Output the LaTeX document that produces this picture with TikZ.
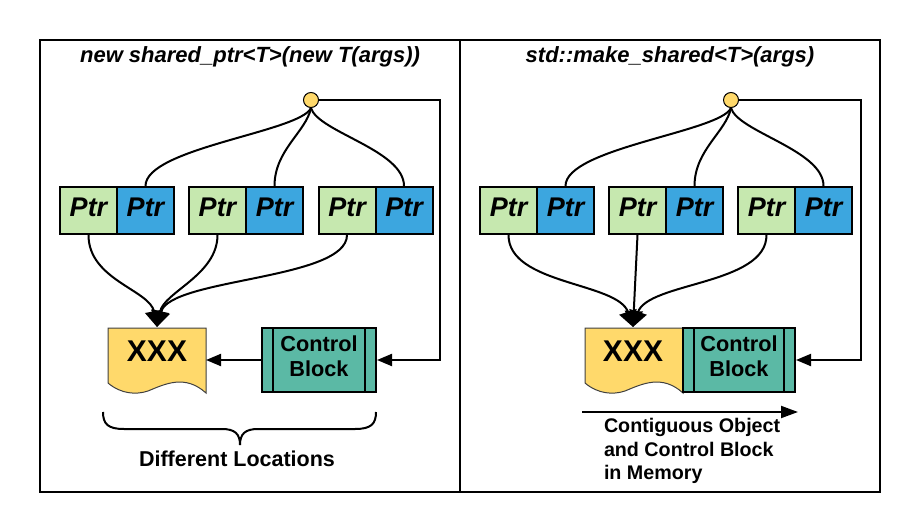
\documentclass[tikz,border=0pt]{standalone}
\usepackage{fontspec}
\setmainfont{Liberation Sans}
\usetikzlibrary{arrows.meta}
\definecolor{ptrgreen}{HTML}{C6E8AF}
\definecolor{ptrblue}{HTML}{3CA6DF}
\definecolor{cbteal}{HTML}{5BB9A5}
\definecolor{objyellow}{HTML}{FFD96B}
\begin{document}
\begin{tikzpicture}[x=1pt,y=-1pt,line width=2pt,
  tip/.style={-{Triangle[length=15pt,width=12pt]}},
  bigtip/.style={-{Triangle[length=16pt,width=18pt]}},
  ptrbox/.style={draw, minimum width=57pt, minimum height=47pt, inner sep=0pt,
    text height=18pt, text depth=7pt, font=\fontsize{27}{30}\selectfont\bfseries\itshape},
  gbox/.style={ptrbox, fill=ptrgreen},
  bbox/.style={ptrbox, fill=ptrblue},
  cblock/.style={draw, fill=cbteal, minimum width=114pt, minimum height=64pt, inner sep=0pt},
  cbtext/.style={align=center, inner sep=0pt, font=\fontsize{21.7}{25}\selectfont\bfseries},
  refc/.style={circle, draw, line width=1pt, fill=objyellow, minimum size=15pt, inner sep=0pt},
  docshape/.style={draw=black!75, line width=1pt, fill=objyellow},
  xtext/.style={anchor=base, inner sep=0pt, font=\fontsize{30}{34}\selectfont\bfseries},
  ttl/.style={anchor=base, inner sep=0pt, font=\fontsize{22}{26}\selectfont\bfseries\itshape},
  lbl/.style={inner sep=0pt, font=\fontsize{21.5}{25}\selectfont\bfseries},
  conn/.style={line width=2pt}
]
\useasboundingbox (0,0) rectangle (920,532);
% frame
\draw (40,40) rectangle (880,492);
\draw (460,40) -- (460,492);
% titles
\node[ttl] (tL) at (250,63) {new shared\_ptr<T>(new T(args))};
\node[ttl] (tR) at (670,63) {std::make\_shared<T>(args)};

% ---------------- left panel ----------------
\node[refc] (cL) at (311,100) {};
\node[gbox] (gL1) at (88.5,210.5) {Ptr};
\node[bbox] (bL1) at (145.5,210.5) {Ptr};
\node[gbox] (gL2) at (217.5,210.5) {Ptr};
\node[bbox] (bL2) at (274.5,210.5) {Ptr};
\node[gbox] (gL3) at (347,210.5) {Ptr};
\node[bbox] (bL3) at (404,210.5) {Ptr};
% object (document shape)
\draw[docshape] (108,328) -- (206,328) -- (206,393)
  .. controls (185,374) and (165,384) .. (148,391)
  .. controls (136,395) and (121,394) .. (108,383) -- cycle;
\node[xtext] (xL) at (157,361) {XXX};
\coordinate (dLtop) at (157,327);
\coordinate (dLe) at (206,360);
% control block
\node[cblock] (cbL) at (319,360) {};
\draw (273,328) -- (273,392);
\draw (365,328) -- (365,392);
\node[cbtext] (cbLt) at (319,356.6) {Control\\Block};
% connectors
\draw[conn] (cL.south) .. controls (300,132) and (145.5,148) .. (bL1.north);
\draw[conn] (cL.south) .. controls (306,132) and (274.5,150) .. (bL2.north);
\draw[conn] (cL.south) .. controls (318,132) and (404,150) .. (bL3.north);
\draw[conn,bigtip] (gL1.south) .. controls (88.5,280) and (150,290) .. (dLtop);
\draw[conn,bigtip] (gL2.south) .. controls (217.5,275) and (164,292) .. (dLtop);
\draw[conn,bigtip] (gL3.south) .. controls (347,280) and (170,278) .. (dLtop);
\coordinate (kL) at (440,100);
\draw[conn,tip] (cL.east) -- (kL) |- (cbL.east);
\draw[conn,tip] (cbL.west) -- (dLe);
% brace
\draw (103,412) .. controls (103,424) and (108,429) .. (124,429) -- (222,429)
  .. controls (235,429) and (240,434) .. (240,445);
\draw (376,412) .. controls (376,424) and (371,429) .. (355,429) -- (258,429)
  .. controls (245,429) and (240,434) .. (240,445);
\node[lbl, anchor=base] (dlab) at (237,466) {Different Locations};

% ---------------- right panel ----------------
\node[refc] (cR) at (731,100) {};
\node[gbox] (gR1) at (508.5,210.5) {Ptr};
\node[bbox] (bR1) at (565.5,210.5) {Ptr};
\node[gbox] (gR2) at (637.5,210.5) {Ptr};
\node[bbox] (bR2) at (694.5,210.5) {Ptr};
\node[gbox] (gR3) at (766.5,210.5) {Ptr};
\node[bbox] (bR3) at (823.5,210.5) {Ptr};
\draw[docshape] (585,328) -- (683,328) -- (683,393)
  .. controls (662,374) and (642,384) .. (625,391)
  .. controls (613,395) and (598,394) .. (585,383) -- cycle;
\node[xtext] (xR) at (633,361) {XXX};
\coordinate (dRtop) at (633,327);
\node[cblock, minimum width=112pt] (cbR) at (739,360) {};
\draw (694,328) -- (694,392);
\draw (784,328) -- (784,392);
\node[cbtext] (cbRt) at (739,356.6) {Control\\Block};
\draw[conn] (cR.south) .. controls (720,132) and (565.5,148) .. (bR1.north);
\draw[conn] (cR.south) .. controls (726,132) and (694.5,150) .. (bR2.north);
\draw[conn] (cR.south) .. controls (738,132) and (823.5,150) .. (bR3.north);
\draw[conn,bigtip] (gR1.south) .. controls (508.5,285) and (618,282) .. (dRtop);
\draw[conn,bigtip] (gR2.south) -- (dRtop);
\draw[conn,bigtip] (gR3.south) .. controls (766.5,285) and (648,282) .. (dRtop);
\coordinate (kR) at (861,100);
\draw[conn,tip] (cR.east) -- (kR) |- (cbR.east);
% memory arrow
\coordinate (memS) at (582,412);
\coordinate (memE) at (798,412);
\draw[conn,-{Triangle[length=17pt,width=12pt]}] (memS) -- (memE);
\node[anchor=north west, align=left, inner sep=0pt,
  font=\fontsize{19.7}{23.5}\selectfont\bfseries] (mlab) at (603,417.5)
  {Contiguous Object\\and Control Block\\in Memory};
\end{tikzpicture}
\end{document}
